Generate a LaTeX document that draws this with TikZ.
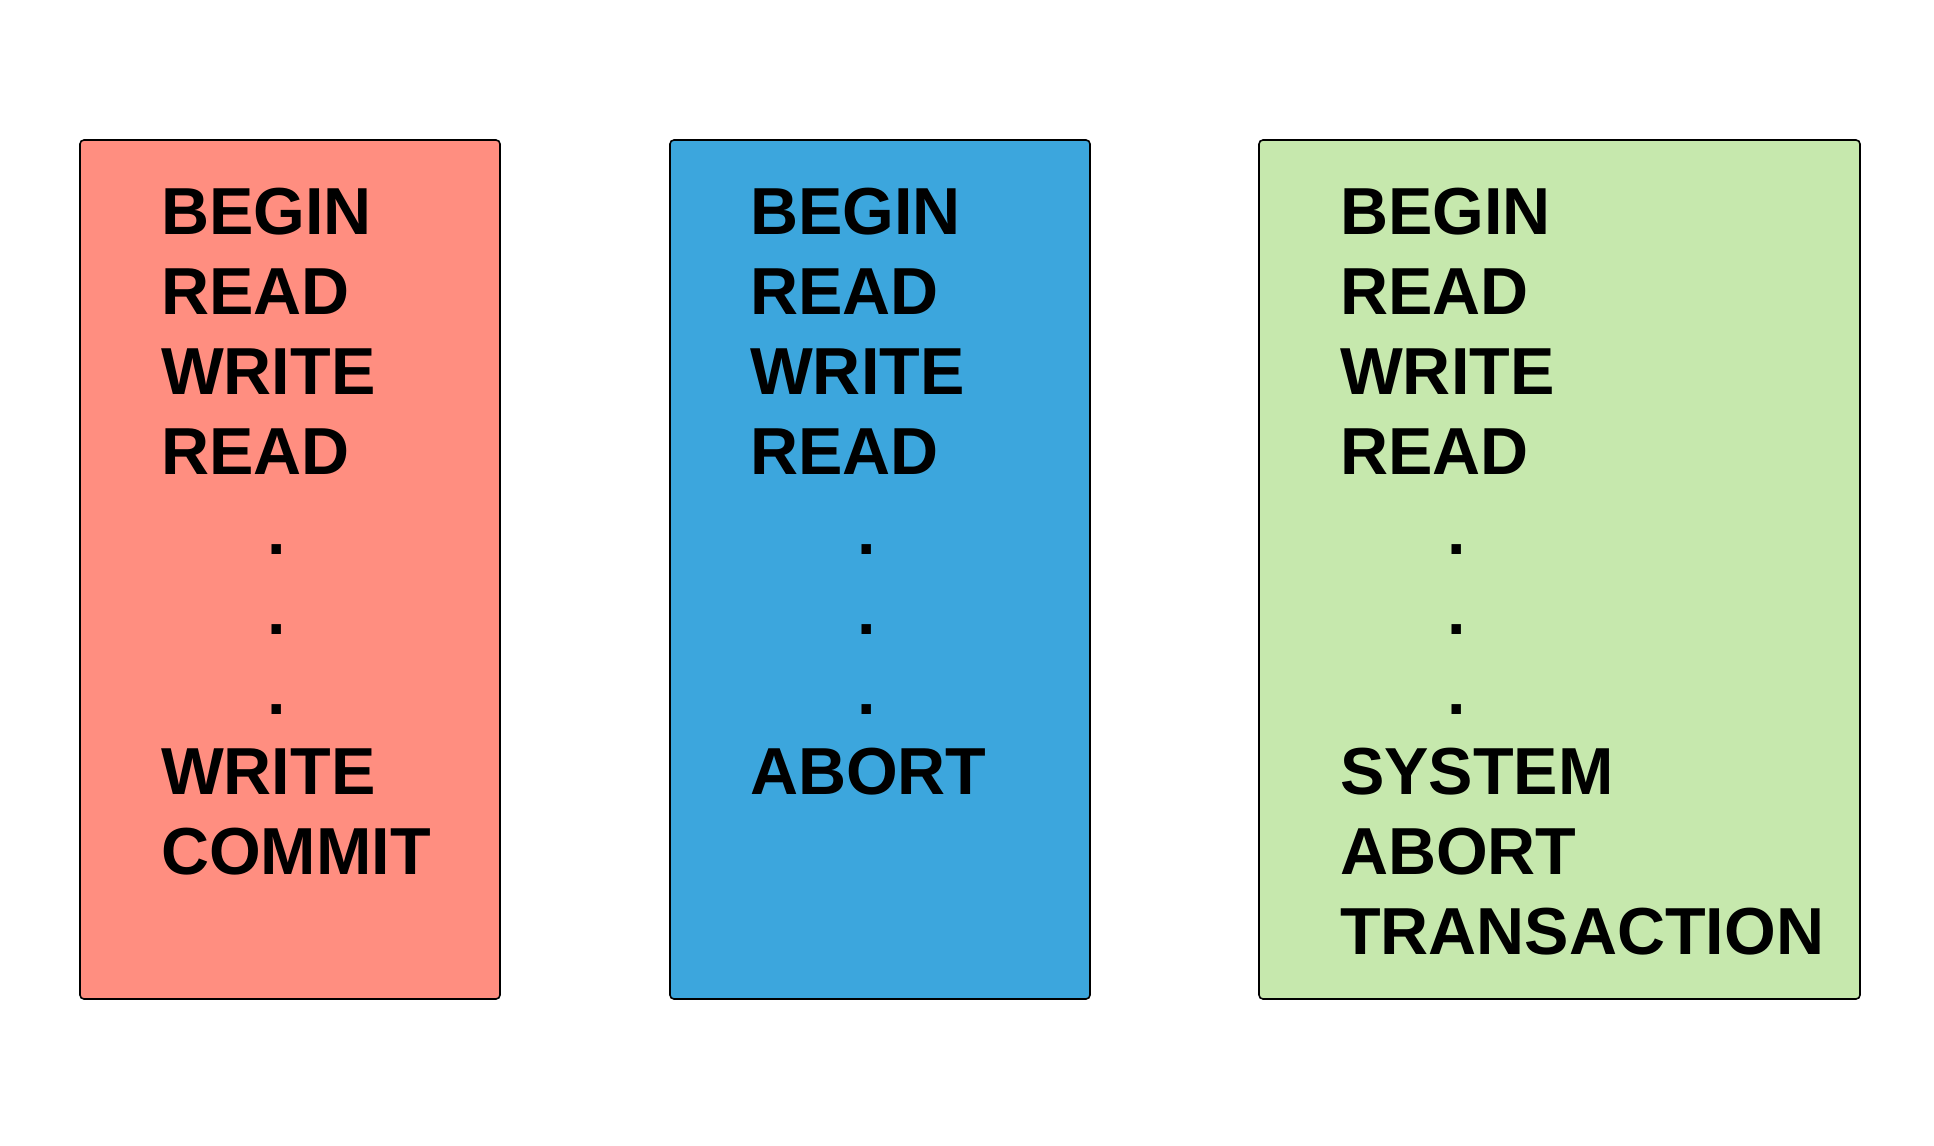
\documentclass[tikz,border=0pt]{standalone}
\usepackage{fontspec}
\setmainfont{Liberation Sans}
\definecolor{cred}{RGB}{255,142,128}
\definecolor{cblue}{RGB}{60,166,221}
\definecolor{cgreen}{RGB}{198,232,173}
\tikzset{
  panel/.style={draw=black, line width=1.6pt, rounded corners=4pt, inner sep=0pt},
  word/.style={anchor=base west, inner sep=0pt, font=\fontsize{66.5}{80}\selectfont\bfseries},
  dotmark/.style={anchor=base, inner sep=0pt, font=\fontsize{66.5}{80}\selectfont\bfseries}
}
\begin{document}
\begin{tikzpicture}[x=1pt,y=-1pt]
\useasboundingbox[fill=white] (0,0) rectangle (1934,1145);
% boxes
\path[panel, fill=cred]   (80,140) rectangle (500,999);
\path[panel, fill=cblue]  (670,140) rectangle (1090,999);
\path[panel, fill=cgreen] (1259,140) rectangle (1860,999);
% box 1
\node[word] (a1) at (161,234) {BEGIN};
\node[word] (a2) at (161,314) {READ};
\node[word] (a3) at (161,394) {WRITE};
\node[word] (a4) at (161,474) {READ};
\node[dotmark] (a5) at (277,554) {.};
\node[dotmark] (a6) at (277,634) {.};
\node[dotmark] (a7) at (277,714) {.};
\node[word] (a8) at (161,794) {WRITE};
\node[word] (a9) at (161,874) {COMMIT};
% box 2
\node[word] (c1) at (750,234) {BEGIN};
\node[word] (c2) at (750,314) {READ};
\node[word] (c3) at (750,394) {WRITE};
\node[word] (c4) at (750,474) {READ};
\node[dotmark] (c5) at (867,554) {.};
\node[dotmark] (c6) at (867,634) {.};
\node[dotmark] (c7) at (867,714) {.};
\node[word] (c8) at (750,794) {ABORT};
% box 3
\node[word] (d1) at (1340,234) {BEGIN};
\node[word] (d2) at (1340,314) {READ};
\node[word] (d3) at (1340,394) {WRITE};
\node[word] (d4) at (1340,474) {READ};
\node[dotmark] (d5) at (1457,554) {.};
\node[dotmark] (d6) at (1457,634) {.};
\node[dotmark] (d7) at (1457,714) {.};
\node[word] (d8) at (1340,794) {SYSTEM};
\node[word] (d9) at (1340,874) {ABORT};
\node[word] (d10) at (1340,954) {TRANSACTION};
\end{tikzpicture}
\end{document}
